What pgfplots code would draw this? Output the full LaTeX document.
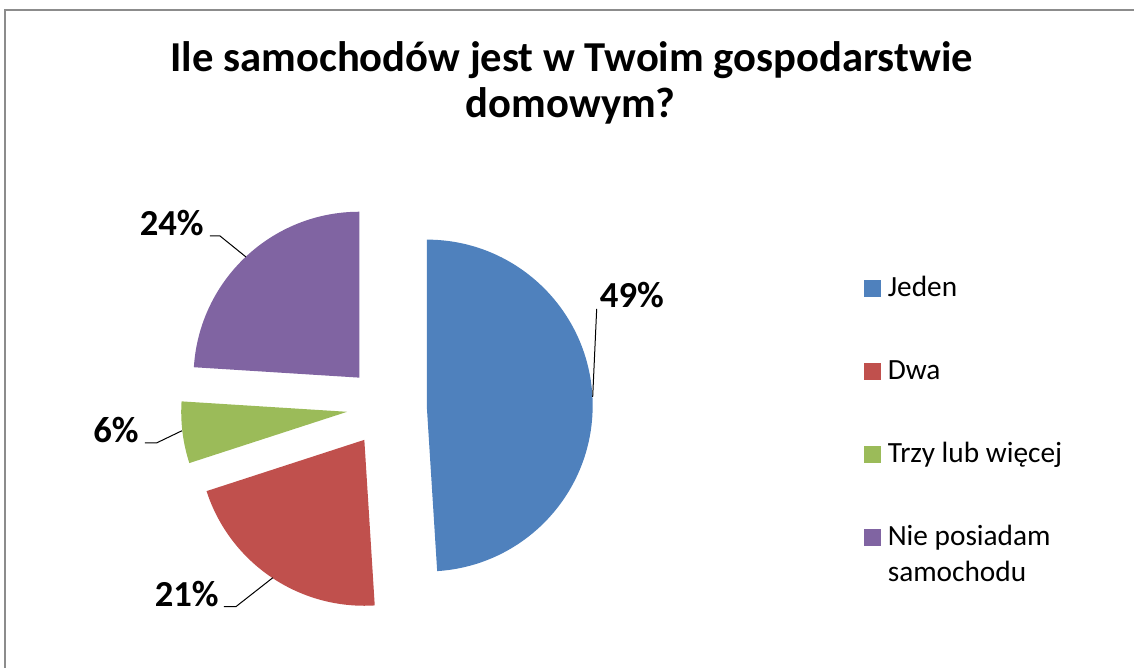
\documentclass[border=0pt]{standalone}
\usepackage{pgfplots}
\pgfplotsset{compat=1.18}
\usepackage{fontspec}
\setmainfont{Carlito}
\usetikzlibrary{calc}

\definecolor{pieblue}{HTML}{4F81BD}
\definecolor{piered}{HTML}{C0504D}
\definecolor{piegreen}{HTML}{9BBB59}
\definecolor{piepurple}{HTML}{8064A2}
\definecolor{framegray}{HTML}{8C8C8C}

% one exploded wedge: #1 cumulative share before it, #2 share, #3 colour
% starts at 12 o'clock and runs clockwise, like the spreadsheet
\newcommand\pieslice[3]{%
  \pgfmathsetmacro\angA{90-3.6*#1}%
  \pgfmathsetmacro\angB{90-3.6*(#1+#2)}%
  \pgfmathsetmacro\angM{(\angA+\angB)/2}%
  \edef\tmp{\noexpand\fill[#3] ($(axis cs:387,261)+(\angM:30pt)$) -- ++(\angA:124.5pt)
    arc[start angle=\angA, end angle=\angB, radius=124.5pt] -- cycle;}%
  \tmp}

\begin{document}
\begin{tikzpicture}
\begin{axis}[
  width=851.25pt, height=501pt, scale only axis,
  xmin=0, xmax=1135, ymin=0, ymax=668,
  hide axis, clip=false,
]
\path (axis cs:0,0) rectangle (axis cs:1135,668);
\draw[framegray, line width=0.9pt] (axis cs:5,0) -- (axis cs:5,658) -- (axis cs:1135,658);

% title
\node[anchor=base, font=\fontsize{32}{36}\selectfont\bfseries] at (axis cs:572,596) {Ile samochodów jest w Twoim gospodarstwie};
\node[anchor=base, font=\fontsize{32}{36}\selectfont\bfseries] at (axis cs:571,550) {domowym?};

% wedges: Jeden 49, Dwa 21, Trzy lub więcej 6, Nie posiadam samochodu 24
\pieslice{0}{49}{pieblue}
\pieslice{49}{21}{piered}
\pieslice{70}{6}{piegreen}
\pieslice{76}{24}{piepurple}

% data labels and leader lines
\draw[black, line width=0.75pt] (axis cs:593,271) -- (axis cs:597,359);
\node[anchor=base west, inner sep=0pt, font=\fontsize{27.5}{32}\selectfont\bfseries] at (axis cs:600,360) {49\%};
\draw[black, line width=0.75pt] (axis cs:210,432) -- (axis cs:220,432) -- (axis cs:246,411);
\node[anchor=base east, inner sep=0pt, font=\fontsize{27.5}{32}\selectfont\bfseries] at (axis cs:204,432) {24\%};
\draw[black, line width=0.75pt] (axis cs:145,225) -- (axis cs:157,225) -- (axis cs:182,237);
\node[anchor=base east, inner sep=0pt, font=\fontsize{27.5}{32}\selectfont\bfseries] at (axis cs:139,225) {6\%};
\draw[black, line width=0.75pt] (axis cs:224,61) -- (axis cs:236,61) -- (axis cs:273,90);
\node[anchor=base east, inner sep=0pt, font=\fontsize{27.5}{32}\selectfont\bfseries] at (axis cs:219,61) {21\%};

% legend
\fill[pieblue] (axis cs:864,371) rectangle (axis cs:881,388);
\node[anchor=base west, inner sep=0pt, font=\fontsize{22}{26}\selectfont] at (axis cs:888,371) {Jeden};
\fill[piered] (axis cs:864,288) rectangle (axis cs:881,305);
\node[anchor=base west, inner sep=0pt, font=\fontsize{22}{26}\selectfont] at (axis cs:888,288) {Dwa};
\fill[piegreen] (axis cs:864,205) rectangle (axis cs:881,222);
\node[anchor=base west, inner sep=0pt, font=\fontsize{22}{26}\selectfont] at (axis cs:888,205) {Trzy lub więcej};
\fill[piepurple] (axis cs:864,122) rectangle (axis cs:881,139);
\node[anchor=base west, inner sep=0pt, font=\fontsize{22}{26}\selectfont] at (axis cs:888,122) {Nie posiadam};
\node[anchor=base west, inner sep=0pt, font=\fontsize{22}{26}\selectfont] at (axis cs:888,86) {samochodu};
\end{axis}
\end{tikzpicture}
\end{document}
